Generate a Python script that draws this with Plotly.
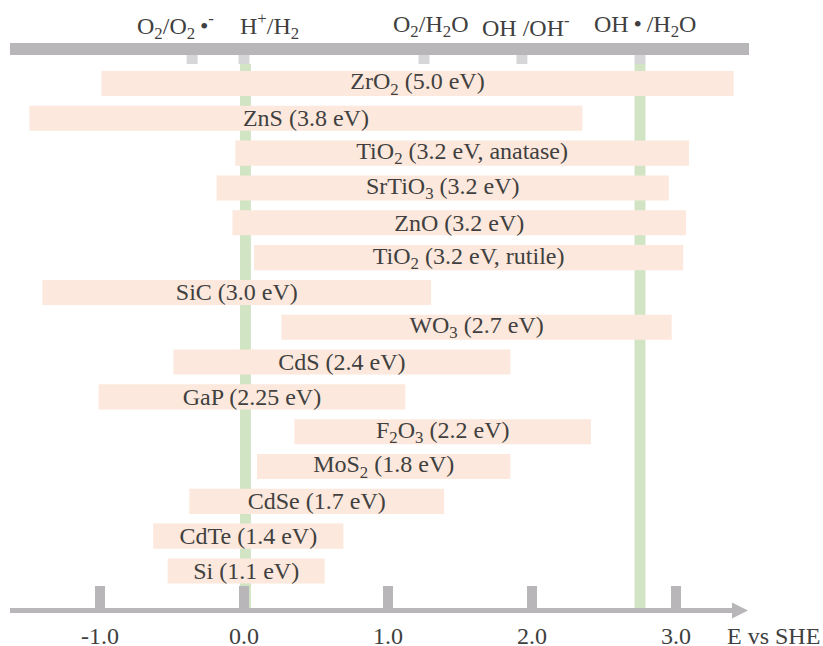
import plotly.graph_objects as go

# ---------------- data ----------------
materials = [
    "ZrO<sub>2</sub> (5.0 eV)",
    "ZnS (3.8 eV)",
    "TiO<sub>2</sub> (3.2 eV, anatase)",
    "SrTiO<sub>3</sub> (3.2 eV)",
    "ZnO (3.2 eV)",
    "TiO<sub>2</sub> (3.2 eV, rutile)",
    "SiC (3.0 eV)",
    "WO<sub>3</sub> (2.7 eV)",
    "CdS (2.4 eV)",
    "GaP (2.25 eV)",
    "F<sub>2</sub>O<sub>3</sub> (2.2 eV)",
    "MoS<sub>2</sub> (1.8 eV)",
    "CdSe (1.7 eV)",
    "CdTe (1.4 eV)",
    "Si (1.1 eV)",
]
# conduction band (left end) and valence band (right end), E vs SHE
band_low = [-0.99, -1.49, -0.06, -0.19, -0.08, 0.07, -1.40, 0.26, -0.49, -1.01, 0.35, 0.09, -0.38, -0.63, -0.53]
band_high = [3.40, 2.35, 3.09, 2.95, 3.07, 3.05, 1.30, 2.97, 1.85, 1.12, 2.41, 1.85, 1.39, 0.69, 0.56]

redox_labels = ["O<sub>2</sub>/O<sub>2</sub>\u2009•<sup>-</sup>", "H<sup>+</sup>/H<sub>2</sub>",
                "O<sub>2</sub>/H<sub>2</sub>O", "OH /OH<sup>-</sup>", "OH\u2009•\u2009/H<sub>2</sub>O"]
redox_potentials = [-0.36, 0.0, 1.25, 1.93, 2.75]
highlight_potentials = [0.01, 2.75]

tick_vals = [-1.0, 0.0, 1.0, 2.0, 3.0]
tick_text = ["-1.0", "0.0", "1.0", "2.0", "3.0"]
axis_title = "E vs SHE"

# ---------------- style ----------------
FONT = "Liberation Serif, Times New Roman, serif"
FS = 24
TXT = "#404040"
BAR = "#fce8dc"
GRAY = "#b8b6b9"
LIGHTGRAY = "#d6d6d8"
GREEN = "#d1e4c3"
label_xshift = [-17, 25, 6, 4, 5]

W, H = 823, 646
PLOT_H = 610
x_range = [-244 / 144, (W - 244) / 144]
y_range = [(PLOT_H - 83.5) / 34.82, -83.5 / 34.82]


def py(px):
    return 1 - px / PLOT_H


def dx(px):
    return (px - 244) / 144


fig = go.Figure()
fig.add_trace(go.Bar(
    orientation="h",
    y=materials,
    base=band_low,
    x=[h - l for h, l in zip(band_high, band_low)],
    marker=dict(color=BAR, line=dict(width=0)),
    text=materials,
    textposition="inside",
    insidetextanchor="middle",
    textangle=0,
    constraintext="none",
    textfont=dict(family=FONT, size=FS, color=TXT),
    insidetextfont=dict(family=FONT, size=FS, color=TXT),
    hoverinfo="skip",
))

shapes = []
# green highlight lines (below bars)
for p in highlight_potentials:
    shapes.append(dict(type="rect", xref="x", yref="paper", x0=p - 0.038, x1=p + 0.038,
                       y0=0, y1=py(64), fillcolor=GREEN, line=dict(width=0), layer="below"))
# top bar
shapes.append(dict(type="rect", xref="x", yref="paper", x0=dx(10), x1=dx(749),
                   y0=py(55), y1=py(43), fillcolor=GRAY, line=dict(width=0), layer="above"))
# top small ticks
for p in redox_potentials:
    shapes.append(dict(type="rect", xref="x", yref="paper", x0=p - 0.038, x1=p + 0.038,
                       y0=py(64), y1=py(55), fillcolor=LIGHTGRAY, line=dict(width=0), layer="above"))
# bottom axis line + arrow
shapes.append(dict(type="line", xref="x", yref="paper", x0=dx(10), x1=dx(734),
                   y0=py(610.5), y1=py(610.5), line=dict(color=GRAY, width=5), layer="above"))
shapes.append(dict(type="path", xref="x", yref="paper",
                   path=f"M {dx(732)},{py(602.5)} L {dx(748)},{py(610.5)} L {dx(732)},{py(618.5)} Z",
                   fillcolor=GRAY, line=dict(width=0), layer="above"))

annotations = []
for lab, p, sh in zip(redox_labels, redox_potentials, label_xshift):
    annotations.append(dict(x=p, y=py(26), xref="x", yref="paper", text=lab, showarrow=False,
                            xshift=sh, xanchor="center", yanchor="middle",
                            font=dict(family=FONT, size=FS, color=TXT)))
annotations.append(dict(x=822 / W, y=py(636), xref="paper", yref="paper", text=axis_title,
                        showarrow=False, xanchor="right", yanchor="middle",
                        font=dict(family=FONT, size=FS, color=TXT)))

fig.update_layout(
    width=W, height=H,
    margin=dict(l=0, r=0, t=0, b=H - PLOT_H, pad=0),
    plot_bgcolor="white", paper_bgcolor="white",
    font=dict(family=FONT, size=FS, color=TXT),
    showlegend=False,
    bargap=0.28,
    shapes=shapes,
    annotations=annotations,
    xaxis=dict(range=x_range, showgrid=False, zeroline=False, showline=False,
               tickvals=tick_vals, ticktext=tick_text, ticks="inside", ticklen=24,
               tickwidth=10, tickcolor=GRAY, ticklabelstandoff=9,
               tickfont=dict(family=FONT, size=FS, color=TXT), automargin=False,
               fixedrange=True),
    yaxis=dict(type="category", categoryorder="array", categoryarray=materials,
               range=y_range, showgrid=False, zeroline=False, showline=False,
               showticklabels=False, ticks="", automargin=False, fixedrange=True),
)

fig.write_html("out.html")
